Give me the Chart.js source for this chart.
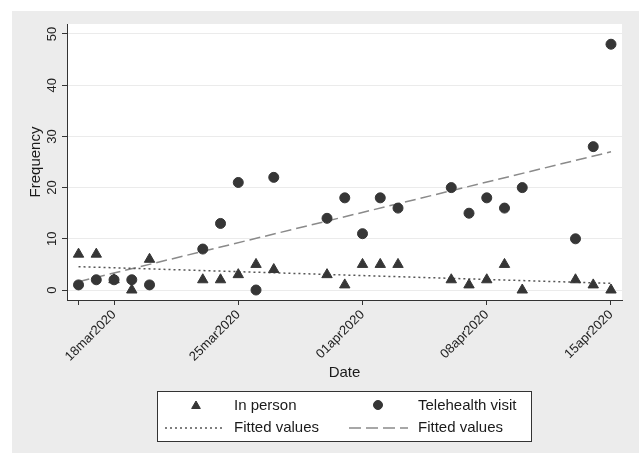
<!DOCTYPE html>
<html><head><meta charset="utf-8">
<script src="https://cdn.jsdelivr.net/npm/chart.js@4.4.0/dist/chart.umd.min.js"></script>
<style>html,body{margin:0;padding:0;background:#fff;}#wrap{width:639px;height:453px;position:relative;}</style>
</head><body><div id="wrap"><canvas id="c" width="639" height="453"></canvas></div>
<script>
const dateLabels = ['16mar2020','17mar2020','18mar2020','19mar2020','20mar2020','23mar2020','24mar2020','25mar2020','26mar2020','27mar2020','30mar2020','31mar2020','01apr2020','02apr2020','03apr2020','06apr2020','07apr2020','08apr2020','09apr2020','10apr2020','13apr2020','14apr2020','15apr2020'];
const days = [0,1,2,3,4,7,8,9,10,11,14,15,16,17,18,21,22,23,24,25,28,29,30];
const inPerson = [7,7,2,0,6,2,2,3,5,4,3,1,5,5,5,2,1,2,5,0,2,1,0];
const telehealth = [1,2,2,2,1,8,13,21,0,22,14,18,11,18,16,20,15,18,16,20,10,28,48];
const fitInPerson = [4.56, 1.3];
const fitTelehealth = [1.63, 27.0];
const xTickDays = [0,2,9,16,23,30];
const xTickLabels = ['','18mar2020','25mar2020','01apr2020','08apr2020','15apr2020'];
const yTicks = [0,10,20,30,40,50];

const FONT = "'Liberation Sans', Arial, sans-serif";
Chart.defaults.font.family = FONT;
const MARK = '#363636';

const bgPlugin = {
  id: 'bg',
  beforeDraw(chart) {
    const {ctx, chartArea: a} = chart;
    ctx.save();
    ctx.fillStyle = '#ffffff';
    ctx.fillRect(0, 0, chart.width, chart.height);
    ctx.fillStyle = '#ececec';
    ctx.fillRect(12, 11, chart.width - 12, chart.height - 11);
    ctx.fillStyle = '#ffffff';
    ctx.fillRect(a.left, a.top, a.right - a.left, a.bottom - a.top);
    ctx.restore();
  }
};

const yLabelPlugin = {
  id: 'ylabels',
  afterDraw(chart) {
    const {ctx} = chart;
    const ys = chart.scales.y;
    ctx.save();
    ctx.fillStyle = '#222';
    ctx.font = '13px ' + FONT;
    ctx.textAlign = 'center';
    ctx.textBaseline = 'middle';
    ys.ticks.forEach(t => {
      const py = ys.getPixelForValue(t.value);
      ctx.save();
      ctx.translate(52, py);
      ctx.rotate(-Math.PI / 2);
      ctx.fillText(String(t.value), 0, 0);
      ctx.restore();
    });
    ctx.restore();
  }
};

const legendPlugin = {
  id: 'customLegend',
  afterDraw(chart) {
    const {ctx} = chart;
    ctx.save();
    ctx.fillStyle = '#ffffff';
    ctx.fillRect(157.5, 391.5, 374, 50);
    ctx.strokeStyle = '#333';
    ctx.lineWidth = 1;
    ctx.strokeRect(157.5, 391.5, 374, 50);
    ctx.fillStyle = MARK;
    ctx.strokeStyle = MARK;
    Chart.helpers.drawPoint(ctx, {pointStyle: 'triangle', radius: 5, rotation: 0, borderWidth: 1}, 196, 406);
    Chart.helpers.drawPoint(ctx, {pointStyle: 'circle', radius: 4.5, rotation: 0, borderWidth: 1}, 378, 405);
    ctx.lineWidth = 1.3;
    ctx.strokeStyle = '#555';
    ctx.setLineDash([2, 3]);
    ctx.beginPath(); ctx.moveTo(165, 428); ctx.lineTo(223, 428); ctx.stroke();
    ctx.strokeStyle = '#8a8a8a';
    ctx.setLineDash([12, 5]);
    ctx.beginPath(); ctx.moveTo(349, 428); ctx.lineTo(408, 428); ctx.stroke();
    ctx.setLineDash([]);
    ctx.fillStyle = '#1a1a1a';
    ctx.font = '15px ' + FONT;
    ctx.textAlign = 'left';
    ctx.textBaseline = 'middle';
    ctx.fillText('In person', 234, 406);
    ctx.fillText('Telehealth visit', 418, 406);
    ctx.fillText('Fitted values', 234, 428);
    ctx.fillText('Fitted values', 418, 428);
    ctx.restore();
  }
};

const last = days.length - 1;
new Chart(document.getElementById('c'), {
  type: 'scatter',
  data: {
    datasets: [
      {label: 'In person', data: days.map((d, i) => ({x: d, y: inPerson[i]})),
       pointStyle: 'triangle', pointRadius: 6, pointHoverRadius: 6,
       backgroundColor: MARK, borderColor: MARK, borderWidth: 1, order: 1},
      {label: 'Telehealth visit', data: days.map((d, i) => ({x: d, y: telehealth[i]})),
       pointStyle: 'circle', pointRadius: 5, pointHoverRadius: 5,
       backgroundColor: MARK, borderColor: MARK, borderWidth: 1, order: 0},
      {type: 'line', label: 'Fitted values', data: [{x: days[0], y: fitInPerson[0]}, {x: days[last], y: fitInPerson[1]}],
       borderColor: '#555', borderWidth: 1.5, borderDash: [2, 3], pointRadius: 0, fill: false, order: 2},
      {type: 'line', label: 'Fitted values', data: [{x: days[0], y: fitTelehealth[0]}, {x: days[last], y: fitTelehealth[1]}],
       borderColor: '#8a8a8a', borderWidth: 1.5, borderDash: [11, 5], pointRadius: 0, fill: false, order: 2}
    ]
  },
  options: {
    responsive: false,
    animation: false,
    devicePixelRatio: 1,
    layout: {padding: {left: 0, right: 17, top: 24, bottom: 0}},
    plugins: {legend: {display: false}, tooltip: {enabled: false}},
    scales: {
      x: {
        type: 'linear', min: -0.65, max: 30.62,
        afterBuildTicks(s) { s.ticks = xTickDays.map(v => ({value: v})); },
        afterFit(s) { s.height = 153; },
        ticks: {
          autoSkip: false, minRotation: 45, maxRotation: 45, padding: 2,
          color: '#222', font: {size: 13},
          callback(v) { const i = xTickDays.indexOf(v); return i >= 0 ? xTickLabels[i] : ''; }
        },
        grid: {drawOnChartArea: false, tickLength: 5, tickColor: '#333', tickWidth: 1},
        border: {display: true, color: '#333', width: 1},
        title: {display: true, text: 'Date', color: '#1a1a1a', font: {size: 15}, padding: {top: 0, bottom: 71}}
      },
      y: {
        type: 'linear', min: -1.95, max: 51.95,
        afterBuildTicks(s) { s.ticks = yTicks.map(v => ({value: v})); },
        afterFit(s) { s.width = 67; },
        ticks: {display: false},
        grid: {color: '#ebebeb', lineWidth: 1, tickLength: 5, tickColor: '#333', tickWidth: 1},
        border: {display: true, color: '#333', width: 1},
        title: {display: true, text: 'Frequency', color: '#1a1a1a', font: {size: 15}, padding: {top: 27, bottom: 0}}
      }
    }
  },
  plugins: [bgPlugin, yLabelPlugin, legendPlugin]
});
</script></body></html>
